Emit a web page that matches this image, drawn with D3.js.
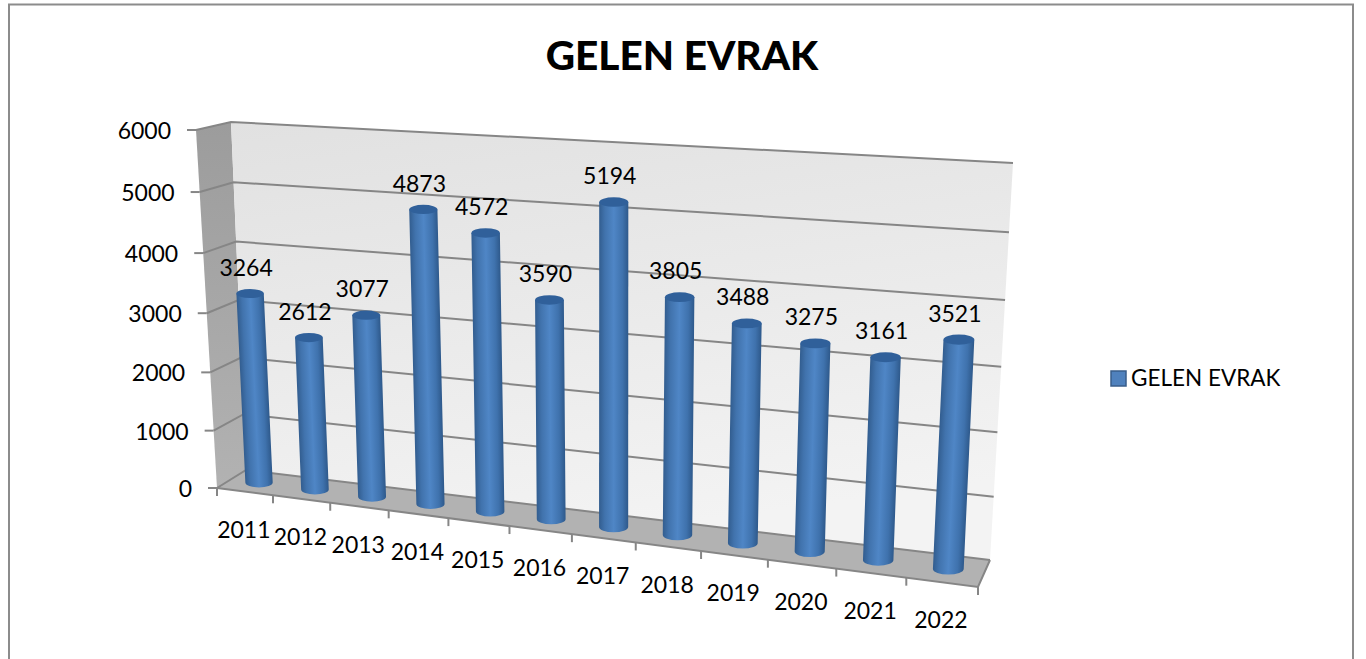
<!DOCTYPE html>
<html>
<head>
<meta charset="utf-8">
<script src="https://cdn.jsdelivr.net/npm/d3@7/dist/d3.min.js"></script>
<style>
html, body { margin: 0; padding: 0; background: #fff; overflow: hidden; }
text { font-family: Lato, sans-serif; fill: #000; }
</style>
</head>
<body>
<div id="chart"></div>
<script>
var years = ["2011", "2012", "2013", "2014", "2015", "2016", "2017", "2018", "2019", "2020", "2021", "2022"];
var values = [3264, 2612, 3077, 4873, 4572, 3590, 5194, 3805, 3488, 3275, 3161, 3521];
var yTicks = [0, 1000, 2000, 3000, 4000, 5000, 6000];
var seriesName = "GELEN EVRAK";

var width = 1366, height = 659;

// corners of the 3d box as they land on the screen
var backWall = [[231, 122], [1013, 163], [990, 560], [246, 470]];
var frontFace = [[196, 130], [996, 180], [978, 587], [217, 488]];

// unit square -> quad (perspective)
function homography(q) {
    var x0 = q[3][0], y0 = q[3][1],
        x1 = q[2][0], y1 = q[2][1],
        x2 = q[1][0], y2 = q[1][1],
        x3 = q[0][0], y3 = q[0][1];
    var sx = x0 - x1 + x2 - x3, sy = y0 - y1 + y2 - y3;
    var dx1 = x1 - x2, dx2 = x3 - x2, dy1 = y1 - y2, dy2 = y3 - y2;
    var den = dx1 * dy2 - dx2 * dy1;
    var g = (sx * dy2 - dx2 * sy) / den, h = (dx1 * sy - sx * dy1) / den;
    var a = x1 - x0 + g * x1, b = x3 - x0 + h * x3, c = x0;
    var d = y1 - y0 + g * y1, e = y3 - y0 + h * y3, f = y0;
    return function(u, v) {
        var w = g * u + h * v + 1;
        return [(a * u + b * v + c) / w, (d * u + e * v + f) / w];
    };
}
var onBack = homography(backWall), onFront = homography(frontFace);

// depth 0 = back wall, 1 = front edge of the floor
function project(u, v, depth) {
    var b = onBack(u, v), f = onFront(u, v);
    return [b[0] + (f[0] - b[0]) * depth, b[1] + (f[1] - b[1]) * depth];
}

var x = d3.scaleBand().domain(years).range([0, 1]);
var y = d3.scaleLinear().domain([0, 6000]).range([0, 1]);
var midDepth = 0.5;

var svg = d3.select("#chart").append("svg")
    .attr("width", width)
    .attr("height", height);

var defs = svg.append("defs");

var wallGrad = defs.append("linearGradient").attr("id", "wallGrad")
    .attr("x1", "0").attr("y1", "0").attr("x2", "0.25").attr("y2", "1");
wallGrad.append("stop").attr("offset", "0").attr("stop-color", "#e1e1e1");
wallGrad.append("stop").attr("offset", "1").attr("stop-color", "#f3f3f3");

var sideGrad = defs.append("linearGradient").attr("id", "sideGrad")
    .attr("x1", "0").attr("y1", "0").attr("x2", "0").attr("y2", "1");
sideGrad.append("stop").attr("offset", "0").attr("stop-color", "#9c9c9c");
sideGrad.append("stop").attr("offset", "1").attr("stop-color", "#b2b2b2");

// chart frame, bottom edge is off the page
svg.append("rect")
    .attr("x", 9).attr("y", 4.5)
    .attr("width", 1344).attr("height", 700)
    .attr("fill", "#fff")
    .attr("stroke", "#8c8c8c")
    .attr("stroke-width", 2);

var line = d3.line();

// walls and floor
svg.append("path")
    .attr("d", line([project(0, 1, 0), project(0, 0, 0), project(0, 0, 1), project(0, 1, 1)]) + "Z")
    .attr("fill", "url(#sideGrad)");
svg.append("path")
    .attr("d", line(backWall) + "Z")
    .attr("fill", "url(#wallGrad)");
svg.append("path")
    .attr("d", line([project(0, 0, 0), project(1, 0, 0), project(1, 0, 1), project(0, 0, 1)]) + "Z")
    .attr("fill", "#b2b2b2");

// grid lines run along the side wall then the back wall
var gridColor = "#868686";
var gridWidth = 2;
svg.append("g").selectAll("path")
    .data(yTicks)
    .enter().append("path")
    .attr("d", function(d) {
        var v = y(d);
        return line([project(0, v, 1), project(0, v, 0), project(1, v, 0)]);
    })
    .attr("fill", "none")
    .attr("stroke", gridColor)
    .attr("stroke-width", gridWidth);

// outer edges
svg.append("path")
    .attr("d", line([project(0, 0, 1), project(1, 0, 1), project(1, 0, 0)]))
    .attr("fill", "none")
    .attr("stroke", gridColor)
    .attr("stroke-width", gridWidth);

// y axis ticks + labels
var yAxis = svg.append("g");
yAxis.selectAll("line")
    .data(yTicks)
    .enter().append("line")
    .attr("x1", function(d) { return project(0, y(d), 1)[0] - 9; })
    .attr("x2", function(d) { return project(0, y(d), 1)[0]; })
    .attr("y1", function(d) { return project(0, y(d), 1)[1]; })
    .attr("y2", function(d) { return project(0, y(d), 1)[1]; })
    .attr("stroke", gridColor)
    .attr("stroke-width", gridWidth);
yAxis.selectAll("text")
    .data(yTicks)
    .enter().append("text")
    .attr("x", function(d) { return project(0, y(d), 1)[0] - 25; })
    .attr("y", function(d) { return project(0, y(d), 1)[1] + 1; })
    .attr("dy", "0.35em")
    .attr("text-anchor", "end")
    .style("font-size", "23px")
    .text(function(d) { return d; });

// x axis ticks + labels
var xEdges = [0].concat(years.map(function(d) { return x(d) + x.bandwidth(); }));
svg.append("g").selectAll("line")
    .data(xEdges)
    .enter().append("line")
    .attr("x1", function(d) { return project(d, 0, 1)[0]; })
    .attr("x2", function(d) { return project(d, 0, 1)[0]; })
    .attr("y1", function(d) { return project(d, 0, 1)[1]; })
    .attr("y2", function(d) { return project(d, 0, 1)[1] + 8; })
    .attr("stroke", gridColor)
    .attr("stroke-width", gridWidth);
svg.append("g").selectAll("text")
    .data(years)
    .enter().append("text")
    .attr("x", function(d) { return project(x(d) + x.bandwidth() / 2, 0, 1)[0] - 1; })
    .attr("y", function(d) { return project(x(d) + x.bandwidth() / 2, 0, 1)[1] + 38; })
    .attr("dy", "0.35em")
    .attr("text-anchor", "middle")
    .style("font-size", "23px")
    .text(function(d) { return d; });

// cylinders
var bars = years.map(function(d, i) {
    var u = x(d) + x.bandwidth() / 2;
    var base = project(u, 0, midDepth), top = project(u, y(values[i]), midDepth);
    var full = project(u, 1, midDepth);
    var r = Math.hypot(full[0] - base[0], full[1] - base[1]) * 0.0385;
    return {year: d, value: values[i], base: base, top: top, r: r};
});

bars.forEach(function(b, i) {
    var grad = defs.append("linearGradient")
        .attr("id", "barGrad" + i)
        .attr("gradientUnits", "userSpaceOnUse")
        .attr("x1", b.base[0] - b.r).attr("y1", b.base[1])
        .attr("x2", b.base[0] + b.r).attr("y2", b.base[1]);
    grad.append("stop").attr("offset", "0").attr("stop-color", "#325d8f");
    grad.append("stop").attr("offset", "0.2").attr("stop-color", "#4173ad");
    grad.append("stop").attr("offset", "0.5").attr("stop-color", "#4f86c6");
    grad.append("stop").attr("offset", "0.8").attr("stop-color", "#3f72ad");
    grad.append("stop").attr("offset", "1").attr("stop-color", "#2e598b");
    grad.attr("gradientTransform", "rotate(" + (Math.atan2(b.top[0] - b.base[0], b.base[1] - b.top[1]) * 180 / Math.PI) + " " + b.base[0] + " " + b.base[1] + ")");
});

var barG = svg.append("g").selectAll("g")
    .data(bars)
    .enter().append("g");

function bodyPath(b) {
    var rx = b.r, ry = b.r * 0.36;
    return "M" + (b.top[0] - rx) + "," + b.top[1] +
        "L" + (b.base[0] - rx) + "," + b.base[1] +
        "A" + rx + "," + ry + " 0 0 0 " + (b.base[0] + rx) + "," + b.base[1] +
        "L" + (b.top[0] + rx) + "," + b.top[1] + "Z";
}

barG.append("path")
    .attr("d", bodyPath)
    .attr("fill", function(d, i) { return "url(#barGrad" + i + ")"; });

barG.append("ellipse")
    .attr("cx", function(d) { return d.top[0]; })
    .attr("cy", function(d) { return d.top[1]; })
    .attr("rx", function(d) { return d.r; })
    .attr("ry", function(d) { return d.r * 0.33; })
    .attr("fill", "#30609a");

// data labels
svg.append("g").selectAll("text")
    .data(bars)
    .enter().append("text")
    .attr("x", function(d) { return d.top[0] - 4; })
    .attr("y", function(d) { return d.top[1] - 26; })
    .attr("dy", "0.35em")
    .attr("text-anchor", "middle")
    .style("font-size", "23px")
    .text(function(d) { return d.value; });

// title
svg.append("text")
    .attr("x", 682)
    .attr("y", 70)
    .attr("text-anchor", "middle")
    .style("font-size", "40.5px")
    .style("font-weight", "900")
    .text(seriesName);

// legend
var legend = svg.append("g");
legend.append("rect")
    .attr("x", 1111).attr("y", 371)
    .attr("width", 15).attr("height", 15)
    .attr("fill", "#4f81bd")
    .attr("stroke", "#385d8a")
    .attr("stroke-width", 1.5);
legend.append("text")
    .attr("x", 1131)
    .attr("y", 378)
    .attr("dy", "0.35em")
    .style("font-size", "22.5px")
    .text(seriesName);
</script>
</body>
</html>
